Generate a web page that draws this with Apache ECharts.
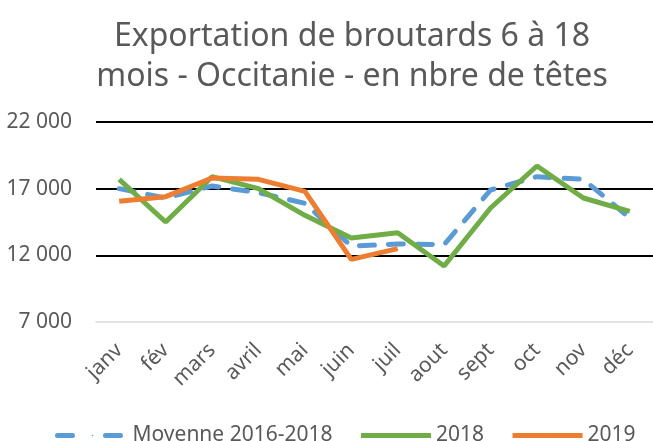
<!DOCTYPE html>
<html>
<head>
<meta charset="utf-8">
<script src="https://cdn.jsdelivr.net/npm/echarts@6/dist/echarts.min.js"></script>
<style>
    html, body { margin: 0; padding: 0; background: #fff; }
    #chart { width: 653px; height: 441px; }
</style>
</head>
<body>
<div id="chart"></div>
<script>
const months = ["janv", "fév", "mars", "avril", "mai", "juin", "juil", "aout", "sept", "oct", "nov", "déc"];
const moyenne = [17000, 16300, 17200, 16700, 15900, 12700, 12850, 12800, 16900, 17900, 17700, 14800];
const y2018 = [17700, 14500, 17900, 17000, 15000, 13300, 13700, 11200, 15550, 18700, 16300, 15300];
const y2019 = [16050, 16400, 17800, 17700, 16800, 11700, 12500];
const yTicks = [7000, 12000, 17000, 22000];

const font = "'Noto Sans', sans-serif";
const grey = "#595959";

const chart = echarts.init(document.getElementById("chart"));

// gridlines drawn as markLines so they sit on 12 000 / 17 000 / 22 000
const gridLines = yTicks.slice(1).map((v) => ({ yAxis: v }));

chart.setOption({
    animation: false,
    title: {
        text: "Exportation de broutards 6 à 18\nmois - Occitanie - en nbre de têtes",
        left: 347,
        textAlign: "center",
        top: 12,
        textStyle: { fontFamily: font, fontSize: 32, fontWeight: "normal", color: grey, lineHeight: 40 },
    },
    legend: {
        left: 50,
        top: 420,
        itemWidth: 70,
        itemHeight: 2,
        itemGap: 26,
        lineStyle: { width: 5 },
        textStyle: { fontFamily: font, fontSize: 21, color: grey },
        data: [
            { name: "Moyenne 2016-2018", lineStyle: { type: [15, 33], cap: "round" } },
            { name: "2018" },
            { name: "2019" },
        ],
    },
    grid: { left: 96, right: 0, top: 122, bottom: 119 },
    xAxis: {
        type: "category",
        data: months,
        axisLine: { lineStyle: { color: "#d9d9d9", width: 1.5 } },
        axisTick: { show: false },
        axisLabel: { rotate: 45, fontFamily: font, fontSize: 21, color: grey, margin: 25 },
    },
    yAxis: {
        type: "value",
        min: 7000,
        max: 22000,
        splitLine: { show: false },
        axisLine: { show: false },
        axisTick: { show: false },
        axisLabel: {
            customValues: yTicks,
            fontFamily: font,
            fontSize: 21,
            color: grey,
            margin: 24,
            formatter: (v) => String(v).replace(/\B(?=(\d{3})+(?!\d))/g, " "),
        },
    },
    series: [
        {
            name: "Moyenne 2016-2018",
            type: "line",
            data: moyenne,
            symbol: "none",
            lineStyle: { color: "#5B9BD5", width: 5, type: [15, 14], cap: "round" },
            itemStyle: { color: "#5B9BD5" },
            markLine: {
                silent: true,
                symbol: "none",
                label: { show: false },
                lineStyle: { color: "#000", width: 2, type: "solid" },
                data: gridLines,
                z: 1,
            },
            z: 3,
        },
        {
            name: "2018",
            type: "line",
            data: y2018,
            symbol: "none",
            lineStyle: { color: "#70AD47", width: 5 },
            itemStyle: { color: "#70AD47" },
            z: 4,
        },
        {
            name: "2019",
            type: "line",
            data: y2019,
            symbol: "none",
            lineStyle: { color: "#ED7D31", width: 5 },
            itemStyle: { color: "#ED7D31" },
            z: 5,
        },
    ],
});
</script>
</body>
</html>
